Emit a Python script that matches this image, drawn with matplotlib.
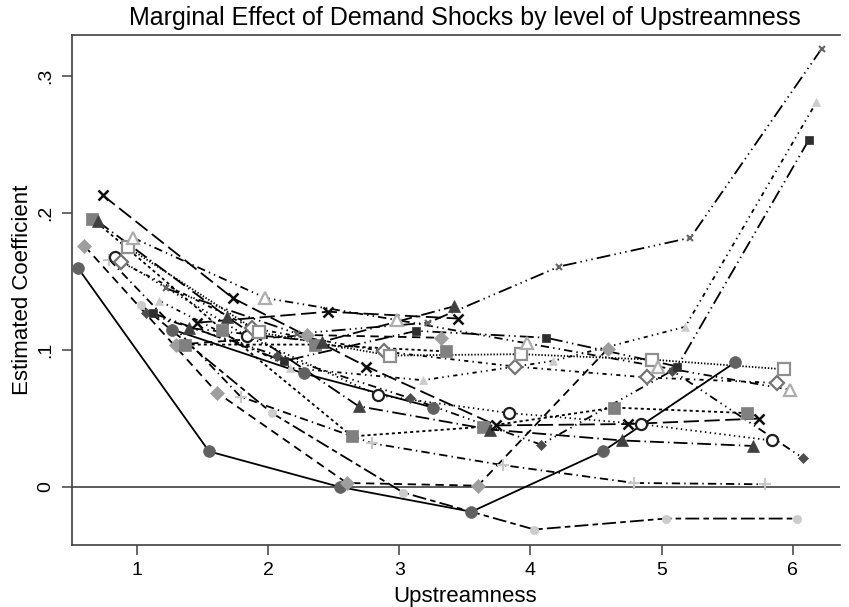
import matplotlib
matplotlib.use("Agg")
import matplotlib.pyplot as plt

plt.rcParams['font.family'] = ['Liberation Sans', 'DejaVu Sans']
plt.rcParams['lines.scale_dashes'] = False

title = "Marginal Effect of Demand Shocks by level of Upstreamness"
xlabel = "Upstreamness"
ylabel = "Estimated Coefficient"
xticks = [1, 2, 3, 4, 5, 6]
yticks = [0, 0.1, 0.2, 0.3]
yticklabels = ["0", ".1", ".2", ".3"]

# series values (x = mean upstreamness of bin, y = coefficient)
x1 = [0.55, 1.55, 2.55, 3.55, 4.55, 5.56]
y1 = [0.160, 0.026, 0.000, -0.018, 0.026, 0.091]
x2 = [0.60, 1.61, 2.60, 3.60, 4.59]
y2 = [0.176, 0.069, 0.003, 0.001, 0.101]
x3 = [0.66, 1.65, 2.64, 3.64, 4.64, 5.65]
y3 = [0.196, 0.115, 0.037, 0.044, 0.058, 0.054]
x4 = [0.70, 1.69, 2.69, 3.69, 4.70, 5.70]
y4 = [0.194, 0.124, 0.059, 0.042, 0.034, 0.030]
x5 = [0.74, 1.73, 2.75, 3.74, 4.74, 5.74]
y5 = [0.213, 0.138, 0.088, 0.045, 0.046, 0.050]
x6 = [0.79, 1.79, 2.79, 3.79, 4.79, 5.79]
y6 = [0.166, 0.066, 0.032, 0.016, 0.003, 0.002]
x7 = [0.83, 1.84, 2.84, 3.84, 4.84, 5.84]
y7 = [0.168, 0.110, 0.067, 0.054, 0.046, 0.034]
x8 = [0.88, 1.88, 2.88, 3.88, 4.89, 5.88]
y8 = [0.164, 0.116, 0.099, 0.088, 0.080, 0.076]
x9 = [0.93, 1.93, 2.93, 3.93, 4.93, 5.93]
y9 = [0.175, 0.113, 0.096, 0.097, 0.093, 0.086]
x10 = [0.97, 1.98, 2.98, 3.97, 4.97, 5.98]
y10 = [0.182, 0.138, 0.122, 0.105, 0.088, 0.071]
x11 = [1.03, 2.03, 3.03, 4.03, 5.03, 6.03]
y11 = [0.133, 0.054, -0.004, -0.031, -0.023, -0.023]
x12 = [1.07, 2.07, 3.08, 4.08, 5.08, 6.08]
y12 = [0.127, 0.096, 0.065, 0.031, 0.085, 0.021]
x13 = [1.12, 2.12, 3.13, 4.12, 5.12, 6.12]
y13 = [0.127, 0.092, 0.114, 0.109, 0.088, 0.253]
x14 = [1.17, 2.17, 3.18, 4.17, 5.18, 6.18]
y14 = [0.136, 0.087, 0.078, 0.092, 0.117, 0.281]
x15 = [1.22, 2.22, 3.22, 4.22, 5.22, 6.22]
y15 = [0.145, 0.112, 0.120, 0.161, 0.182, 0.320]
x16 = [1.27, 2.27, 3.26]
y16 = [0.115, 0.083, 0.058]
x17 = [1.30, 2.30, 3.32]
y17 = [0.104, 0.111, 0.109]
x18 = [1.37, 2.36, 3.36]
y18 = [0.104, 0.104, 0.099]
x19 = [1.40, 2.41, 3.42]
y19 = [0.116, 0.106, 0.132]
x20 = [1.46, 2.46, 3.45]
y20 = [0.120, 0.128, 0.123]

xs = [x1, x2, x3, x4, x5, x6, x7, x8, x9, x10, x11, x12, x13, x14, x15, x16, x17, x18, x19, x20]
ys = [y1, y2, y3, y4, y5, y6, y7, y8, y9, y10, y11, y12, y13, y14, y15, y16, y17, y18, y19, y20]

# Stata s2mono-like styles: (marker, size, filled, gray level, dash pattern)
solid = None
dash = (0, (6, 4))
vshortdash = (0, (2.2, 2.2))
longdash_dot = (0, (10, 3, 1, 3))
longdash = (0, (11, 4))
dash_dot = (0, (6, 3, 1, 3))
dot = (0, (1, 2.5))
shortdash_dot = (0, (3, 3, 1, 3))
tight_dot = (0, (1, 1.3))
dash_dot_dot = (0, (6, 3, 1, 3, 1, 3))
longdash_shortdash = (0, (10, 3, 4, 3))
dash_3dot = (0, (6, 3, 1, 3, 1, 3, 1, 3))
longdash_dot_dot = (0, (10, 3, 1, 3, 1, 3))
shortdash_dot_dot = (0, (3, 3, 1, 3, 1, 3))
longdash_3dot = (0, (10, 3, 1, 3, 1, 3, 1, 3))

styles = [
    ('o', 8.5, True, 0.38, solid),
    ('D', 7.5, True, 0.62, dash),
    ('s', 8.0, True, 0.50, vshortdash),
    ('^', 8.5, True, 0.25, longdash_dot),
    ('x', 7.0, True, 0.05, longdash),
    ('+', 8.0, True, 0.78, dash_dot),
    ('o', 8.0, False, 0.12, dot),
    ('D', 7.0, False, 0.45, shortdash_dot),
    ('s', 8.0, False, 0.56, tight_dot),
    ('^', 8.0, False, 0.68, dash_dot_dot),
    ('o', 6.0, True, 0.80, longdash_shortdash),
    ('D', 5.5, True, 0.30, dash_3dot),
    ('s', 6.0, True, 0.18, longdash_dot_dot),
    ('^', 6.0, True, 0.80, shortdash_dot_dot),
    ('x', 5.0, True, 0.40, longdash_3dot),
]

fig = plt.figure(figsize=(8.49, 6.07), dpi=100)
ax = fig.add_axes([72/849, 1-545/607, (840-72)/849, (545-35)/607])

ax.axhline(0, color='0.25', lw=1.2, zorder=1)

for i, (x, y) in enumerate(zip(xs, ys)):
    m, ms, filled, g, ls = styles[i % 15]
    col = str(g)
    kw = dict(color='black', lw=1.3, zorder=2 + i * 0.01)
    if ls is None:
        kw['linestyle'] = '-'
    else:
        kw['linestyle'] = ls
    ax.plot(x, y, **kw)
    if m in ('x', '+'):
        ax.plot(x, y, linestyle='none', marker=m, ms=ms, mew=1.8 if m == 'x' and ms > 6 else 1.5,
                color=col, zorder=3 + i * 0.01)
    elif filled:
        ax.plot(x, y, linestyle='none', marker=m, ms=ms, mfc=col, mec=col, mew=0.5,
                zorder=3 + i * 0.01)
    else:
        ax.plot(x, y, linestyle='none', marker=m, ms=ms, mfc='white', mec=col, mew=1.6,
                zorder=3 + i * 0.01)

ax.set_xlim(0.505, 6.36)
ax.set_ylim(-0.0423, 0.33)
ax.set_xticks(xticks)
ax.set_xticklabels([str(t) for t in xticks])
ax.set_yticks(yticks)
ax.set_yticklabels(yticklabels, rotation=90, va='center')

for s in ['left', 'bottom', 'top']:
    ax.spines[s].set_color('0.25')
    ax.spines[s].set_linewidth(1.2)
ax.spines['right'].set_visible(False)

ax.tick_params(axis='both', direction='out', length=7, width=1.1, color='0.25',
               labelsize=14, pad=6)
ax.tick_params(axis='x', pad=5)

ax.set_xlabel(xlabel, fontsize=16, labelpad=5)
ax.xaxis.label.set_x(0.512)
ax.set_ylabel(ylabel, fontsize=16, labelpad=3)
t = ax.set_title(title, fontsize=18, pad=7)
t.set_x(0.512)

fig.savefig('out.png', dpi=100, facecolor='white')
